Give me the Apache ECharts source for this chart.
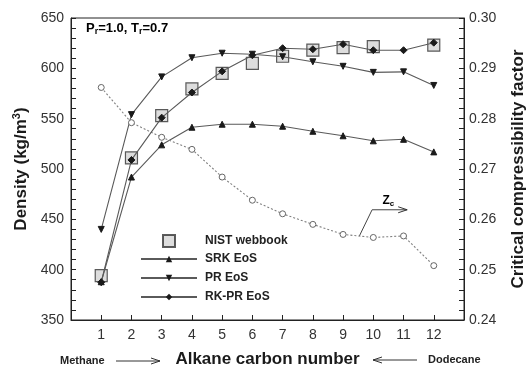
<!DOCTYPE html>
<html>
<head>
<meta charset="utf-8">
<script src="https://cdn.jsdelivr.net/npm/echarts@6/dist/echarts.min.js"></script>
<style>
  html, body { margin: 0; padding: 0; background: #fff; }
  #chart { width: 531px; height: 365px; }
</style>
</head>
<body>
<div id="chart"></div>
<script>
// Alkane carbon numbers (methane .. dodecane)
const carbonNumbers = [1, 2, 3, 4, 5, 6, 7, 8, 9, 10, 11, 12];

// Saturated liquid density, kg/m3
const nistDensity  = [394, 511, 553, 579.5, 595, 605, 612, 618, 620.5, 621.5, null, 623];
const srkDensity   = [388, 492, 524, 541.5, 544.5, 544.5, 542.5, 537.5, 533, 528, 529.5, 517];
const prDensity    = [440, 554, 591.5, 610.5, 615, 614, 611.5, 606.5, 602, 596, 596.5, 583];
const rkprDensity  = [387.5, 509, 551, 576, 597, 613, 620, 619, 624, 618, 618, 625.5];

// Critical compressibility factor
const zcValues = [0.2862, 0.2792, 0.2763, 0.2739, 0.2684, 0.2638, 0.2611, 0.2590, 0.2570, 0.2564, 0.2567, 0.2508];

// Zc call-out arrow, in (carbon number, Zc) units
const zcArrowX = [9.54, 9.96, 11.12];
const zcArrowY = [0.2567, 0.2619, 0.2619];
const zcLabelAt = [10.5, 0.2637];

const pairs = (vals) => carbonNumbers.map((c, i) => [c, vals[i]]).filter(p => p[1] !== null);

const FONT = 'Liberation Sans, Arial, sans-serif';
const LINE = '#5a5a5a';
const MARK = '#1a1a1a';

const chart = echarts.init(document.getElementById('chart'), null, { renderer: 'canvas' });

const legendText = { fontFamily: FONT, fontSize: 12, lineHeight: 12, fontWeight: 'bold', color: '#222' };

const option = {
  animation: false,
  textStyle: { fontFamily: FONT },
  grid: {
    left: 71, right: 67, top: 18, bottom: 45,
    containLabel: false, outerBoundsMode: 'none',
    show: true, borderColor: '#222', borderWidth: 1
  },
  xAxis: {
    type: 'value', min: 0, max: 13, interval: 1,
    name: 'Alkane carbon number', nameLocation: 'middle', nameGap: 31,
    nameTextStyle: { fontFamily: FONT, fontSize: 17, fontWeight: 'bold', color: '#1a1a1a' },
    axisLine: { lineStyle: { color: '#222' } },
    axisTick: { inside: true, length: 5, lineStyle: { color: '#222' } },
    axisLabel: {
      fontFamily: FONT, fontSize: 14, color: '#333', margin: 8,
      formatter: v => (v >= 1 && v <= 12 ? String(v) : '')
    },
    splitLine: { show: false }
  },
  yAxis: [
    {
      type: 'value', min: 350, max: 650, interval: 50, position: 'left',
      name: '{a|Density (kg/m}{s|3}{a|)}', nameLocation: 'middle', nameGap: 40, nameRotate: 90,
      nameTextStyle: {
        rich: {
          a: { fontFamily: FONT, fontSize: 17, fontWeight: 'bold', color: '#1a1a1a' },
          s: { fontFamily: FONT, fontSize: 11, fontWeight: 'bold', color: '#1a1a1a', verticalAlign: 'top', padding: [0, 0, 8, 0] }
        }
      },
      axisLine: { show: true, lineStyle: { color: '#222' } },
      axisTick: { inside: true, length: 5, lineStyle: { color: '#222' } },
      minorTick: { show: true, splitNumber: 5, length: 5, lineStyle: { color: '#222' } },
      axisLabel: { fontFamily: FONT, fontSize: 14, color: '#333', margin: 7 },
      splitLine: { show: false }
    },
    {
      type: 'value', min: 0.24, max: 0.30, interval: 0.01, position: 'right',
      name: 'Critical compressibility factor', nameLocation: 'middle', nameGap: 46, nameRotate: 90,
      nameTextStyle: { fontFamily: FONT, fontSize: 17, fontWeight: 'bold', color: '#1a1a1a' },
      axisLine: { show: true, lineStyle: { color: '#222' } },
      axisTick: { inside: true, length: 5, lineStyle: { color: '#222' } },
      minorTick: { show: true, splitNumber: 5, length: 5, lineStyle: { color: '#222' } },
      axisLabel: { fontFamily: FONT, fontSize: 14, color: '#333', margin: 5, formatter: v => v.toFixed(2) },
      splitLine: { show: false }
    }
  ],
  legend: [
    {
      data: [{ name: 'NIST webbook', icon: 'rect' }],
      orient: 'vertical', left: 157, top: 229,
      itemWidth: 12, itemHeight: 12,
      textStyle: Object.assign({ padding: [0, 0, 0, 25] }, legendText)
    },
    {
      data: ['SRK EoS', 'PR EoS', 'RK-PR EoS'],
      orient: 'vertical', left: 135, top: 248,
      itemWidth: 56, itemHeight: 8, itemGap: 7,
      textStyle: Object.assign({ padding: [0, 0, 0, 3] }, legendText)
    }
  ],
  series: [
    {
      name: 'NIST webbook', type: 'scatter', yAxisIndex: 0, z: 2,
      data: pairs(nistDensity),
      symbol: 'rect', symbolSize: 12,
      itemStyle: { color: '#d4d4d4', borderColor: '#333', borderWidth: 1.2 }
    },
    {
      name: 'SRK EoS', type: 'line', yAxisIndex: 0, z: 3,
      data: pairs(srkDensity),
      symbol: 'triangle', symbolSize: 6, showAllSymbol: true,
      lineStyle: { color: LINE, width: 1.1 },
      itemStyle: { color: MARK, borderColor: MARK }
    },
    {
      name: 'PR EoS', type: 'line', yAxisIndex: 0, z: 3,
      data: pairs(prDensity),
      symbol: 'triangle', symbolRotate: 180, symbolSize: 6, showAllSymbol: true,
      lineStyle: { color: LINE, width: 1.1 },
      itemStyle: { color: MARK, borderColor: MARK }
    },
    {
      name: 'RK-PR EoS', type: 'line', yAxisIndex: 0, z: 4,
      data: pairs(rkprDensity),
      symbol: 'diamond', symbolSize: 7, showAllSymbol: true,
      lineStyle: { color: LINE, width: 1.1 },
      itemStyle: { color: MARK, borderColor: MARK }
    },
    {
      name: 'Zc', type: 'line', yAxisIndex: 1, z: 3,
      data: pairs(zcValues),
      symbol: 'circle', symbolSize: 6, showAllSymbol: true,
      lineStyle: { color: '#808080', width: 1.1, type: [2, 2] },
      itemStyle: { color: '#fff', borderColor: '#666', borderWidth: 1 }
    }
  ]
};

chart.setOption(option);

// Annotations: parameter box, Zc call-out and end-member arrows
const toPx = (x, z) => chart.convertToPixel({ xAxisIndex: 0, yAxisIndex: 1 }, [x, z]);
const arrowPts = zcArrowX.map((x, i) => toPx(x, zcArrowY[i]));
const tip = arrowPts[arrowPts.length - 1];
const lbl = toPx(zcLabelAt[0], zcLabelAt[1]);

function arrowHead(x, y, dir) {
  // dir = +1 points right, -1 points left
  return {
    type: 'polyline', silent: true,
    shape: { points: [[x - dir * 9, y - 3], [x, y], [x - dir * 9, y + 3]] },
    style: { stroke: '#333', fill: null, lineWidth: 1 }
  };
}

chart.setOption({
  graphic: [
    {
      type: 'text', left: 86, top: 22, silent: true,
      style: {
        text: '{a|P}{s|r}{a|=1.0, T}{s|r}{a|=0.7}',
        rich: {
          a: { fontFamily: FONT, fontSize: 13, fontWeight: 'bold', color: '#222' },
          s: { fontFamily: FONT, fontSize: 9, fontWeight: 'bold', color: '#222', verticalAlign: 'bottom', padding: [6, 0, 0, 0] }
        }
      }
    },
    {
      type: 'polyline', silent: true,
      shape: { points: arrowPts },
      style: { stroke: '#444', fill: null, lineWidth: 1 }
    },
    arrowHead(tip[0], tip[1], 1),
    {
      type: 'text', x: lbl[0], y: lbl[1], silent: true,
      style: {
        text: '{a|Z}{s|c}', align: 'center', verticalAlign: 'middle',
        rich: {
          a: { fontFamily: FONT, fontSize: 12, fontWeight: 'bold', color: '#222' },
          s: { fontFamily: FONT, fontSize: 8, fontWeight: 'bold', color: '#222', padding: [6, 0, 0, 0] }
        }
      }
    },
    {
      type: 'text', x: 60, y: 361, silent: true,
      style: { text: 'Methane', fontFamily: FONT, fontSize: 11, fontWeight: 'bold', fill: '#222', verticalAlign: 'middle' }
    },
    {
      type: 'line', silent: true,
      shape: { x1: 116, y1: 361, x2: 160, y2: 361 },
      style: { stroke: '#333', lineWidth: 1 }
    },
    arrowHead(160, 361, 1),
    {
      type: 'text', x: 428, y: 360, silent: true,
      style: { text: 'Dodecane', fontFamily: FONT, fontSize: 11, fontWeight: 'bold', fill: '#222', verticalAlign: 'middle' }
    },
    {
      type: 'line', silent: true,
      shape: { x1: 417, y1: 360, x2: 373, y2: 360 },
      style: { stroke: '#333', lineWidth: 1 }
    },
    arrowHead(373, 360, -1)
  ]
});
</script>
</body>
</html>
